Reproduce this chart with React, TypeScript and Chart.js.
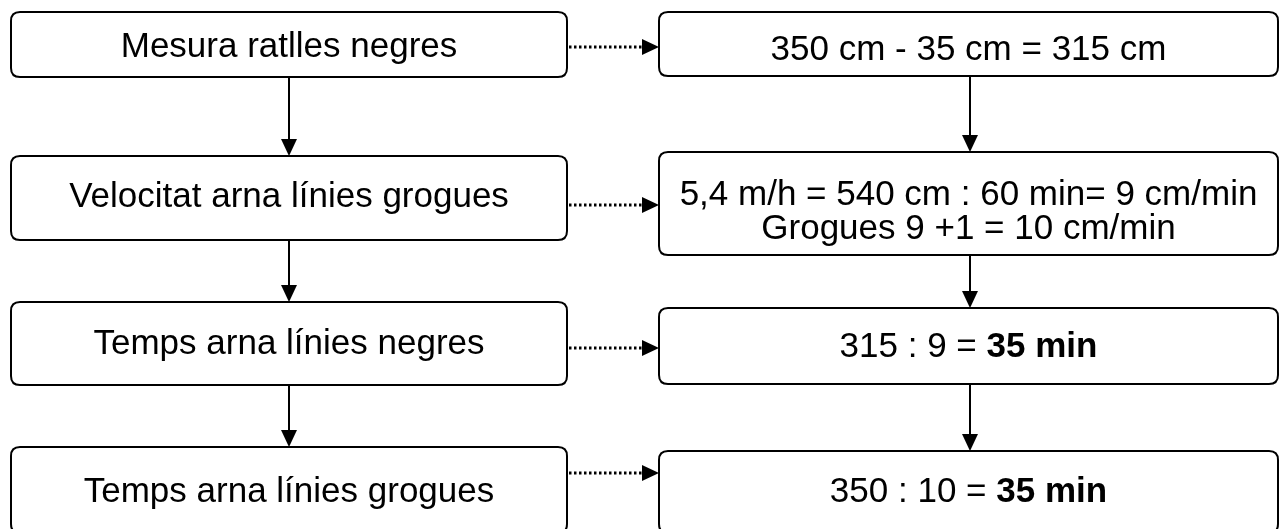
import React, { useEffect, useRef } from "react";
import { Chart, registerables } from "chart.js";

Chart.register(...registerables);

// ---- content ----
const leftSteps: string[] = [
  "Mesura ratlles negres",
  "Velocitat arna línies grogues",
  "Temps arna línies negres",
  "Temps arna línies grogues",
];

// right-hand results; **text** marks bold runs, each inner array = lines of one box
const rightResults: string[][] = [
  ["350 cm - 35 cm = 315 cm"],
  ["5,4 m/h = 540 cm : 60 min= 9 cm/min", "Grogues 9 +1 = 10 cm/min"],
  ["315 : 9 = **35 min**"],
  ["350 : 10 = **35 min**"],
];

// ---- layout (in scale units) ----
const X_MAX = 1279;
const Y_MAX = 529;
const leftColX = [11, 567];
const rightColX = [659, 1278];
const leftBoxY = [[12, 77], [156, 240], [302, 385], [447, 533]];
const rightBoxY = [[12, 76], [152, 255], [308, 384], [451, 533]];
const connectorY = [47, 205, 348, 473];
const leftBaseY = [57, 207, 354, 502];
const rightBaseY = [[60], [205, 239], [357], [502]];
const leftArrowX = 289;
const rightArrowX = 970;

const FONT_SIZE = 35;
const fontOf = (bold: boolean) =>
  `${bold ? "bold " : ""}${FONT_SIZE}px "Liberation Sans", Arial, sans-serif`;

function roundRect(ctx: CanvasRenderingContext2D, x1: number, y1: number, x2: number, y2: number, r: number) {
  ctx.beginPath();
  ctx.moveTo(x1 + r, y1);
  ctx.lineTo(x2 - r, y1);
  ctx.quadraticCurveTo(x2, y1, x2, y1 + r);
  ctx.lineTo(x2, y2 - r);
  ctx.quadraticCurveTo(x2, y2, x2 - r, y2);
  ctx.lineTo(x1 + r, y2);
  ctx.quadraticCurveTo(x1, y2, x1, y2 - r);
  ctx.lineTo(x1, y1 + r);
  ctx.quadraticCurveTo(x1, y1, x1 + r, y1);
  ctx.closePath();
}

function drawRich(ctx: CanvasRenderingContext2D, text: string, cx: number, by: number) {
  const parts = text.split("**");
  const segs = parts.map((t, i) => ({ t, bold: i % 2 === 1 })).filter((s) => s.t.length);
  let total = 0;
  const widths = segs.map((s) => {
    ctx.font = fontOf(s.bold);
    const w = ctx.measureText(s.t).width;
    total += w;
    return w;
  });
  let x = cx - total / 2;
  ctx.textAlign = "left";
  ctx.textBaseline = "alphabetic";
  segs.forEach((s, i) => {
    ctx.font = fontOf(s.bold);
    ctx.fillText(s.t, x, by);
    x += widths[i];
  });
}

const HEAD_LEN = 17;
const HEAD_HALF = 8;

function arrowHead(ctx: CanvasRenderingContext2D, tipX: number, tipY: number, dir: "down" | "right") {
  ctx.beginPath();
  if (dir === "down") {
    ctx.moveTo(tipX, tipY);
    ctx.lineTo(tipX - HEAD_HALF, tipY - HEAD_LEN);
    ctx.lineTo(tipX + HEAD_HALF, tipY - HEAD_LEN);
  } else {
    ctx.moveTo(tipX, tipY);
    ctx.lineTo(tipX - HEAD_LEN, tipY - HEAD_HALF);
    ctx.lineTo(tipX - HEAD_LEN, tipY + HEAD_HALF);
  }
  ctx.closePath();
  ctx.fill();
}

const flowPlugin = {
  id: "flow",
  afterDraw(chart: any) {
    const ctx: CanvasRenderingContext2D = chart.ctx;
    const xs = chart.scales.x;
    const ys = chart.scales.y;
    const px = (v: number) => xs.getPixelForValue(v);
    const py = (v: number) => ys.getPixelForValue(v);
    ctx.save();
    ctx.strokeStyle = "#000";
    ctx.fillStyle = "#000";
    ctx.lineWidth = 2;

    // boxes
    leftBoxY.forEach(([a, b]) => {
      roundRect(ctx, px(leftColX[0]), py(a), px(leftColX[1]), py(b), 9);
      ctx.stroke();
    });
    rightBoxY.forEach(([a, b]) => {
      roundRect(ctx, px(rightColX[0]), py(a), px(rightColX[1]), py(b), 9);
      ctx.stroke();
    });

    // vertical arrows
    const vArrows = (x: number, boxes: number[][]) => {
      for (let i = 0; i < boxes.length - 1; i++) {
        const y1 = py(boxes[i][1]);
        const y2 = py(boxes[i + 1][0]);
        ctx.setLineDash([]);
        ctx.beginPath();
        ctx.moveTo(px(x), y1);
        ctx.lineTo(px(x), y2 - HEAD_LEN + 2);
        ctx.stroke();
        arrowHead(ctx, px(x), y2, "down");
      }
    };
    vArrows(leftArrowX, leftBoxY);
    vArrows(rightArrowX, rightBoxY);

    // dotted horizontal connectors
    connectorY.forEach((y) => {
      const x1 = px(leftColX[1]) + 2;
      const x2 = px(rightColX[0]);
      ctx.save();
      ctx.setLineDash([2.5, 2.5]);
      ctx.lineWidth = 3;
      ctx.beginPath();
      ctx.moveTo(x1, py(y));
      ctx.lineTo(x2 - HEAD_LEN, py(y));
      ctx.stroke();
      ctx.restore();
      arrowHead(ctx, x2, py(y), "right");
    });

    // texts
    const lcx = px((leftColX[0] + leftColX[1]) / 2);
    const rcx = px((rightColX[0] + rightColX[1]) / 2);
    leftSteps.forEach((t, i) => drawRich(ctx, t, lcx, py(leftBaseY[i])));
    rightResults.forEach((lines, i) =>
      lines.forEach((t, j) => drawRich(ctx, t, rcx, py(rightBaseY[i][j])))
    );
    ctx.restore();
  },
};

export default function App() {
  const ref = useRef<HTMLCanvasElement | null>(null);
  useEffect(() => {
    if (!ref.current) return;
    const centers = leftBoxY.map((b) => ({ x: (leftColX[0] + leftColX[1]) / 2, y: (b[0] + b[1]) / 2 }))
      .concat(rightBoxY.map((b) => ({ x: (rightColX[0] + rightColX[1]) / 2, y: (b[0] + b[1]) / 2 })));
    const chart = new Chart(ref.current, {
      type: "scatter",
      data: {
        datasets: [
          {
            label: "passos",
            data: centers,
            pointRadius: 0,
            pointHoverRadius: 0,
            showLine: false,
          },
        ],
      },
      options: {
        animation: false,
        responsive: false,
        maintainAspectRatio: false,
        layout: { padding: 0 },
        plugins: { legend: { display: false }, tooltip: { enabled: false }, title: { display: false } },
        events: [],
        scales: {
          x: { type: "linear", min: 0, max: X_MAX, display: false },
          y: { type: "linear", min: 0, max: Y_MAX, reverse: true, display: false },
        },
      },
      plugins: [flowPlugin],
    });
    return () => chart.destroy();
  }, []);
  return (
    <div style={{ position: "fixed", left: 0, top: 0, width: X_MAX, height: Y_MAX, background: "#fff" }}>
      <canvas ref={ref} width={X_MAX} height={Y_MAX} style={{ display: "block" }} />
    </div>
  );
}
